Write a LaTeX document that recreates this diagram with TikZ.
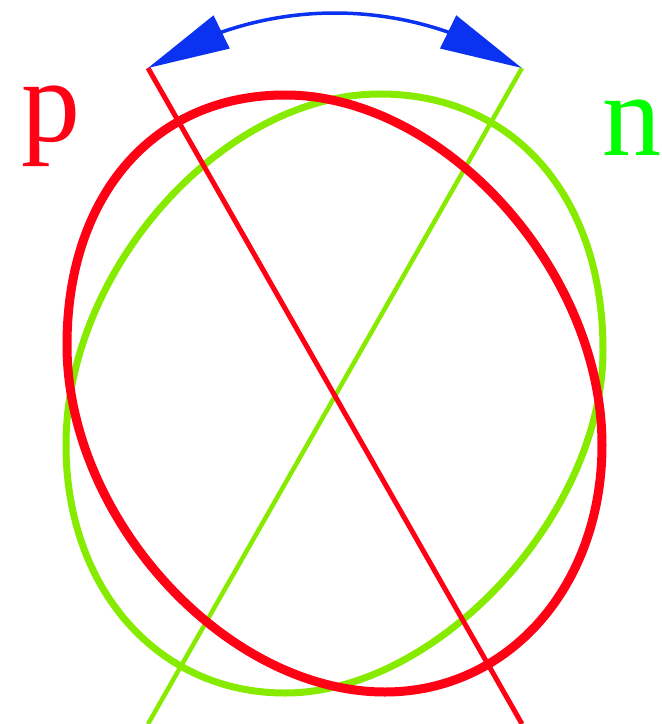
\documentclass[tikz,border=0pt]{standalone}
\usepackage{fontspec}
\setmainfont{Liberation Serif}
\usetikzlibrary{arrows.meta,bending}
\definecolor{pred}{RGB}{255,0,20}
\definecolor{ngreen}{RGB}{135,235,0}
\definecolor{tgreen}{RGB}{0,255,0}
\definecolor{arcblue}{RGB}{10,50,240}
\tikzset{
  greenring/.style={draw=ngreen,line width=7pt},
  redring/.style={draw=pred,line width=9pt},
  greenline/.style={draw=ngreen,line width=4.5pt},
  redline/.style={draw=pred,line width=5pt},
  bluearc/.style={draw=arcblue,line width=3.5pt,
    {Triangle[length=82pt,width=36pt,fill=arcblue]}-{Triangle[length=82pt,width=36pt,fill=arcblue]}},
  label/.style={inner sep=0pt,anchor=base west,font=\fontsize{118}{118}\selectfont}
}
\begin{document}
\begin{tikzpicture}[x=1pt,y=1pt]
\useasboundingbox (0,0) rectangle (662,-724);
\coordinate (tl) at (148,-68);
\coordinate (tr) at (522,-68);
\coordinate (bl) at (148,-724);
\coordinate (br) at (522,-724);
% green ring
\draw[greenring] (380,-94)
  .. controls (513.8,-94) and (603,-196.4) .. (603,-350)
  .. controls (603,-514.6) and (437.6,-693) .. (285,-693)
  .. controls (158,-693) and (66,-588.8) .. (66,-445)
  .. controls (66,-269.5) and (223,-94) .. cycle;
\draw[greenline] (tr) -- (bl);
% red ring
\draw[redring] (67,-345)
  .. controls (67,-195) and (154,-95) .. (285,-95)
  .. controls (443.5,-95) and (602,-270) .. (602,-445)
  .. controls (602,-585.8) and (508.7,-692) .. (385,-692)
  .. controls (226,-692) and (67,-518.5) .. cycle;
\draw[redline] (tl) -- (br);
% blue arc
\draw[bluearc] (tl) arc[start angle=122.8, end angle=57.2, radius=345];
% labels
\node[label,text=pred] (p) at (21,-141) {p};
\node[label,text=tgreen] (n) at (602,-155) {n};
\end{tikzpicture}
\end{document}
